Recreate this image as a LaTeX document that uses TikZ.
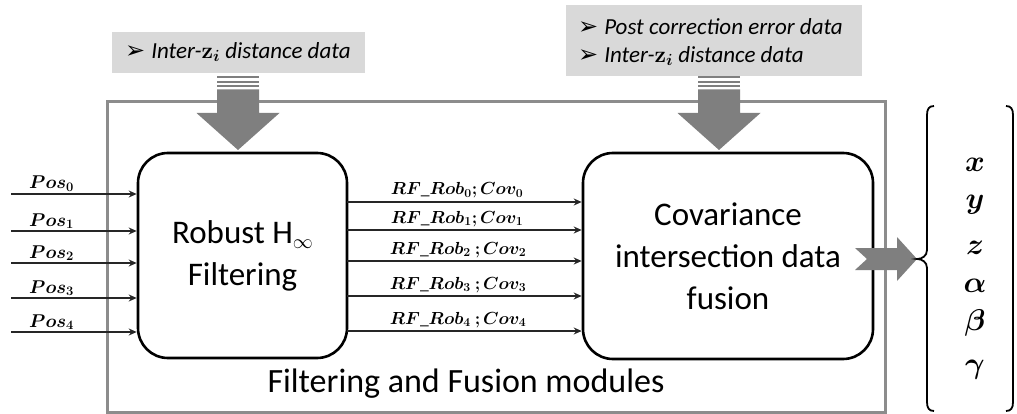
\RequirePackage{fix-cm}
\documentclass[tikz,border=0pt]{standalone}
\usepackage[no-math]{fontspec}
\usepackage{bm}
\setmainfont{Carlito}
\newfontfamily\symfont{DejaVu Sans}
\usetikzlibrary{arrows.meta}
\definecolor{boxgray}{HTML}{D9D9D9}
\definecolor{arrgray}{HTML}{7F7F7F}
\definecolor{framegray}{HTML}{8C8C8C}
\newcommand{\bulletarrow}{{\symfont\fontsize{24}{24}\selectfont\upshape ➢}\hspace{6pt}}
\begin{document}
\begin{tikzpicture}[x=1pt,y=-1pt,
  pbox/.style={draw=black, line width=2.6pt, rounded corners=30pt, fill=white, inner sep=0pt,
    font=\fontsize{33}{42}\selectfont, align=center},
  infobox/.style={fill=boxgray, draw=none, inner sep=0pt},
  infotext/.style={anchor=west, inner sep=0pt, align=left, font=\fontsize{23}{27}\selectfont\itshape},
  sigarrow/.style={draw=black!85, line width=1.6pt, -{Stealth[length=8pt,width=7pt]}},
  poslab/.style={anchor=base west, inner sep=0pt, font=\fontsize{18.5}{22}\selectfont},
  rflab/.style={anchor=base, inner sep=0pt, font=\fontsize{17.5}{22}\selectfont},
  varlab/.style={anchor=base, inner sep=0pt, font=\fontsize{30}{30}\selectfont},
  pics/stripedarrow/.style={code={
    \fill[arrgray] (0,0) -- (41.5,-37) -- (21,-37) -- (21,-60.5) -- (-21,-60.5) -- (-21,-37) -- (-41.5,-37) -- cycle;
    \fill[arrgray] (-21,-73.5) rectangle (21,-71.5);
    \fill[arrgray] (-21,-69) rectangle (21,-67);
    \fill[arrgray] (-21,-64.5) rectangle (21,-62.5);
  }}]
\useasboundingbox (0,0) rectangle (1017,414);

% outer frame
\node[draw=framegray, line width=3pt, minimum width=778pt, minimum height=310pt, inner sep=0pt] (frame) at (496,257) {};
\node[anchor=base, inner sep=0pt, font=\fontsize{34}{40}\selectfont] (frametitle) at (466,392) {Filtering and Fusion modules};

% processing boxes
\node[pbox, minimum width=209pt, minimum height=205pt] (rob) at (242.5,255.5) {Robust H\raisebox{-5pt}{\fontsize{20}{20}\selectfont$\infty$}\\Filtering};
\node[pbox, minimum width=290pt, minimum height=206pt] (cif) at (728,256) {Covariance\\intersection data\\fusion};

% info boxes
\node[infobox, minimum width=253pt, minimum height=41pt] (infoL) at (238.5,52.5) {};
\node[infotext] (infoLtext) at (125,52) {\bulletarrow Inter-$\mathbf{z}_{\bm{i}}$ distance data};
\node[infobox, minimum width=296pt, minimum height=71pt] (infoR) at (714,40.5) {};
\node[infotext] (infoRtext) at (578,42) {\bulletarrow Post correction error data\\[1pt]\bulletarrow Inter-$\mathbf{z}_{\bm{i}}$ distance data};

% striped down arrows
\pic at (238,150) {stripedarrow};
\pic at (719,150) {stripedarrow};

% inputs
\foreach \i/\yy in {0/194,1/231,2/263,3/298,4/332}{
  \coordinate (in\i) at (11,\yy);
  \draw[sigarrow] (in\i) -- (in\i -| rob.west);
  \node[poslab] (pos\i) at (29,\yy-5) {$\bm{Pos}_{\mathbf{\i}}$};
}

% outputs
\foreach \i/\yy in {0/202,1/230,2/261,3/296,4/331}{
  \coordinate (out\i) at (347,\yy);
  \draw[sigarrow] (out\i) -- (out\i -| cif.west);
}
\node[rflab] (rf0) at (457,195) {$\bm{RF}\_\bm{Rob}_{\mathbf{0}}\bm{;}\bm{Cov}_{\mathbf{0}}$};
\node[rflab] (rf1) at (457,223) {$\bm{RF}\_\bm{Rob}_{\mathbf{1}}\bm{;}\bm{Cov}_{\mathbf{1}}$};
\node[rflab] (rf2) at (458,254) {$\bm{RF}\_\bm{Rob}_{\mathbf{2}}\ \bm{;}\bm{Cov}_{\mathbf{2}}$};
\node[rflab] (rf3) at (458,289) {$\bm{RF}\_\bm{Rob}_{\mathbf{3}}\ \bm{;}\bm{Cov}_{\mathbf{3}}$};
\node[rflab] (rf4) at (458,324) {$\bm{RF}\_\bm{Rob}_{\mathbf{4}}\ \bm{;}\bm{Cov}_{\mathbf{4}}$};

% notched output arrow
\fill[arrgray] (855,248) -- (897,248) -- (897,237) -- (917,259) -- (897,281) -- (897,270) -- (855,270) -- (867,259) -- cycle;

% braces
\draw[line width=1.8pt, black] (934,106) .. controls (929,106) and (927,109) .. (927,115) -- (927,250)
  .. controls (927,256) and (922,259) .. (917,259) .. controls (922,259) and (927,262) .. (927,268)
  -- (927,402) .. controls (927,408) and (929,411) .. (934,411);
\draw[line width=1.8pt, black] (1006,106) .. controls (1011,106) and (1013,109) .. (1013,115) -- (1013,402)
  .. controls (1013,408) and (1011,411) .. (1006,411);

% output variables
\node[varlab] (vx) at (975,172) {$\bm{x}$};
\node[varlab] (vy) at (975,209) {$\bm{y}$};
\node[varlab] (vz) at (975,254) {$\bm{z}$};
\node[varlab] (va) at (975,292) {$\bm{\alpha}$};
\node[varlab] (vb) at (975,330) {$\bm{\beta}$};
\node[varlab] (vg) at (975,373) {$\bm{\gamma}$};
\end{tikzpicture}
\end{document}
